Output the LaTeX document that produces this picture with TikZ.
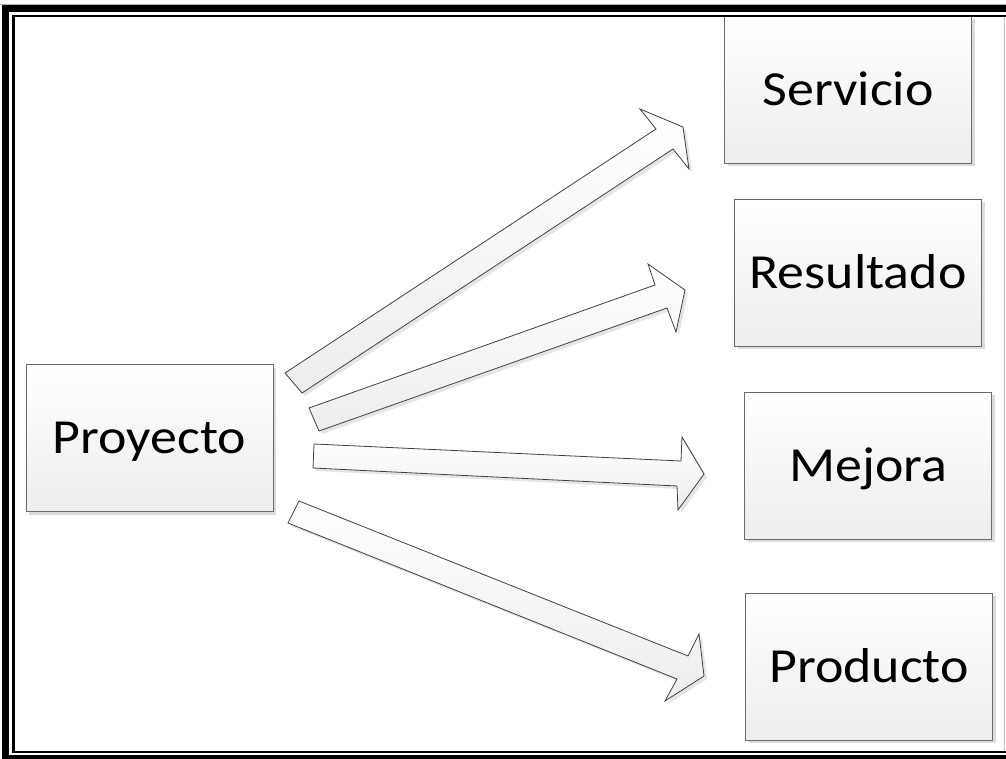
\documentclass[tikz,border=0pt]{standalone}
\usepackage{fontspec}
\setmainfont{Carlito}
\usetikzlibrary{shadows}
\definecolor{edge}{HTML}{6A6A6A}
\definecolor{boxlow}{HTML}{EDEDED}
\definecolor{shade}{HTML}{DCDCDC}
\newcommand{\wide}[1]{\scalebox{1.1}[1]{#1}}
\begin{document}
\begin{tikzpicture}[x=1pt,y=-1pt,
  item/.style={draw=edge, line width=1pt, top color=white, bottom color=boxlow,
    minimum width=247pt, minimum height=147pt, inner sep=0pt,
    text height=31pt, text depth=0pt,
    font=\fontsize{49}{58}\selectfont,
    drop shadow={shadow xshift=3pt, shadow yshift=-3pt, fill=shade, opacity=1}},
  blockarrow/.style={draw=black!75, line width=0.8pt, top color=white, bottom color=boxlow, line join=miter},
  arrowshadow/.style={fill=black!10, xshift=3pt, yshift=-3pt}]
\useasboundingbox (0,0) rectangle (1006,758);
\clip (0,0) rectangle (1006,758);

% boxes
\node[item] (proy) at (149.5,438) {\wide{Proyecto}};
\node[item] (serv) at (848,89.5) {\wide{Servicio}};
\node[item] (res)  at (858,272.5) {\wide{Resultado}};
\node[item] (mej)  at (868.3,465.5) {\wide{Mejora}};
\node[item] (prod) at (869,666.5) {\wide{Producto}};

% block arrow outlines (tail, head notch, barb, tip, barb, notch, tail)
\def\toServ{(285,373) -- (656,129) -- (640,109) -- (683,127) -- (689,169) -- (673,149) -- (302,393) -- cycle}
\def\toRes{(309,408) -- (655,285) -- (648,264) -- (685,290) -- (676,332) -- (667,308) -- (319,431) -- cycle}
\def\toMej{(314,444) -- (681,461) -- (682,437) -- (704,474) -- (678,510) -- (677,486) -- (313,468) -- cycle}
\def\toProd{(299,501) -- (688,656) -- (699,634) -- (704,676) -- (665,701) -- (677,679) -- (288,523) -- cycle}

% shadows first, then the arrow bodies
\fill[arrowshadow] \toServ;
\fill[arrowshadow] \toRes;
\fill[arrowshadow] \toMej;
\fill[arrowshadow] \toProd;
\path[blockarrow] \toServ;
\path[blockarrow] \toRes;
\path[blockarrow] \toMej;
\path[blockarrow] \toProd;

% double page frame
\draw[black!30, line width=0.8pt] (0,4) -- (1006,4);
\draw[line width=7pt] (5,8.5) rectangle (1030,758.5);
\draw[line width=2.5pt] (13.5,16) rectangle (1030,752);
\draw[black!25, line width=1pt] (1004,17) -- (1004,751);
\end{tikzpicture}
\end{document}
